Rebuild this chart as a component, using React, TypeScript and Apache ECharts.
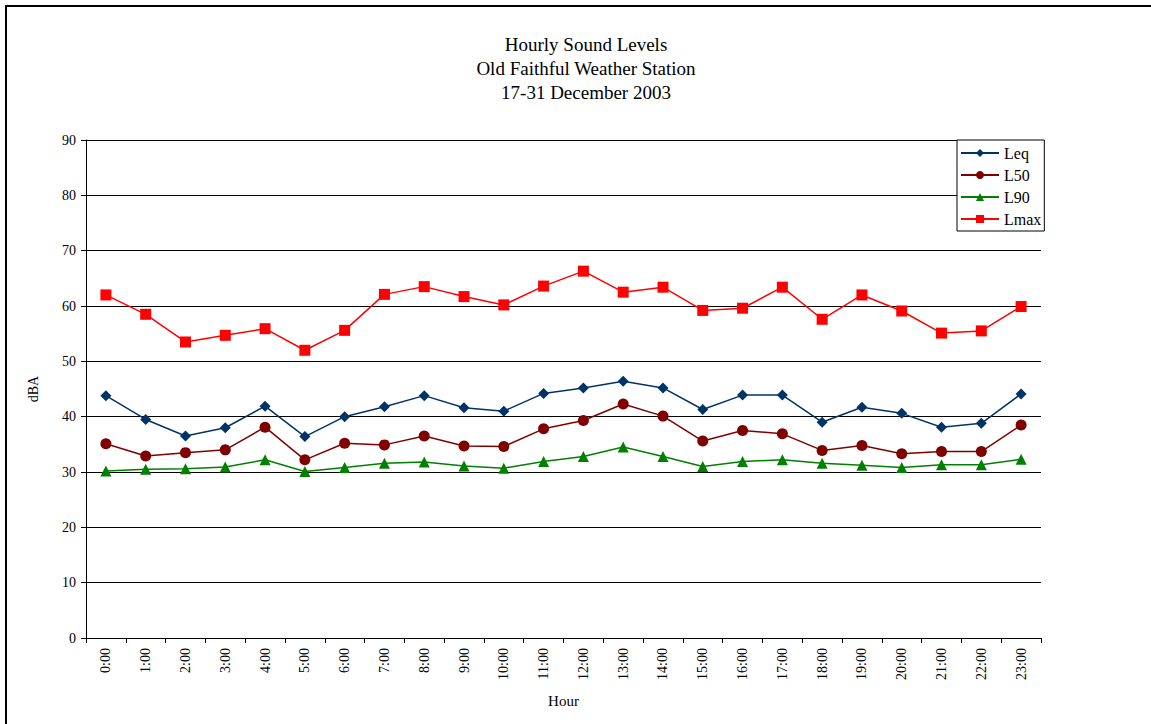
import React, { useEffect, useRef } from "react";
import * as echarts from "echarts";

const hours = ["0:00","1:00","2:00","3:00","4:00","5:00","6:00","7:00","8:00","9:00","10:00","11:00","12:00","13:00","14:00","15:00","16:00","17:00","18:00","19:00","20:00","21:00","22:00","23:00"];
const leq = [43.8,39.5,36.5,38.0,41.9,36.4,40.0,41.8,43.8,41.6,41.0,44.2,45.2,46.4,45.2,41.3,43.9,43.9,39.0,41.7,40.6,38.1,38.8,44.1];
const l50 = [35.1,32.9,33.5,34.0,38.1,32.2,35.2,34.9,36.5,34.7,34.6,37.8,39.3,42.3,40.1,35.6,37.5,36.9,33.9,34.8,33.3,33.7,33.7,38.5];
const l90 = [30.2,30.5,30.6,30.9,32.2,30.1,30.8,31.6,31.8,31.1,30.7,31.9,32.8,34.5,32.8,31.0,31.9,32.2,31.6,31.2,30.8,31.3,31.3,32.3];
const lmax = [62.0,58.5,53.5,54.7,55.9,52.0,55.6,62.1,63.5,61.7,60.2,63.6,66.3,62.5,63.4,59.2,59.6,63.4,57.6,62.0,59.1,55.1,55.5,59.9];

const FONT = "'Liberation Serif', 'DejaVu Serif', serif";

export default function App() {
  const ref = useRef<HTMLDivElement>(null);
  useEffect(() => {
    if (!ref.current) return;
    const chart = echarts.init(ref.current, null, { renderer: "svg" });
    const mk = (name: string, data: number[], color: string, symbol: string, size: number) => ({
      name, type: "line", data, symbol, symbolSize: size,
      lineStyle: { color, width: 1.5 },
      itemStyle: { color },
    });
    chart.setOption({
      animation: false,
      backgroundColor: "#fff",
      textStyle: { fontFamily: FONT },
      title: {
        text: "Hourly Sound Levels\nOld Faithful Weather Station\n17-31 December 2003",
        left: 581, top: 27, textAlign: "center",
        textStyle: { fontFamily: FONT, fontSize: 19, fontWeight: "normal", color: "#000", lineHeight: 24 },
      },
      graphic: [
        { type: "rect", shape: { x: 6, y: 6, width: 1150, height: 725 }, style: { fill: "none", stroke: "#000", lineWidth: 2 }, silent: true },
      ],
      legend: {
        top: 140, orient: "vertical",
        left: 957,
        backgroundColor: "#fff", borderColor: "#000", borderWidth: 1,
        padding: [5, 3, 4, 3], itemGap: 6,
        itemWidth: 38, itemHeight: 10,
        textStyle: { fontFamily: FONT, fontSize: 16, color: "#000" },
        data: ["Leq", "L50", "L90", "Lmax"],
      },
      grid: { left: 86, right: 110, top: 140, bottom: 86 },
      xAxis: {
        type: "category", data: hours, boundaryGap: true,
        name: "Hour", nameLocation: "middle", nameGap: 55,
        nameTextStyle: { fontFamily: FONT, fontSize: 15, color: "#000" },
        axisLine: { lineStyle: { color: "#000", width: 1 } },
        axisTick: { show: true, inside: false, length: 5, lineStyle: { color: "#000" } },
        axisLabel: { rotate: 90, fontFamily: FONT, fontSize: 14, color: "#000", margin: 10 },
      },
      yAxis: {
        type: "value", min: 0, max: 90, interval: 10,
        name: "dBA", nameLocation: "middle", nameGap: 46,
        nameTextStyle: { fontFamily: FONT, fontSize: 14, color: "#000" },
        axisLine: { show: true, lineStyle: { color: "#000", width: 1 } },
        axisTick: { show: true, length: 5, lineStyle: { color: "#000" } },
        axisLabel: { fontFamily: FONT, fontSize: 14, color: "#000", margin: 10 },
        splitLine: { lineStyle: { color: "#000", width: 1 } },
      },
      series: [
        mk("Leq", leq, "#003366", "diamond", 11),
        mk("L50", l50, "#800000", "circle", 11),
        mk("L90", l90, "#008000", "triangle", 11),
        mk("Lmax", lmax, "#ff0000", "rect", 11),
      ],
    });
    return () => chart.dispose();
  }, []);
  return <div ref={ref} style={{ position: "absolute", left: 0, top: 0, width: 1151, height: 724 }} />;
}
